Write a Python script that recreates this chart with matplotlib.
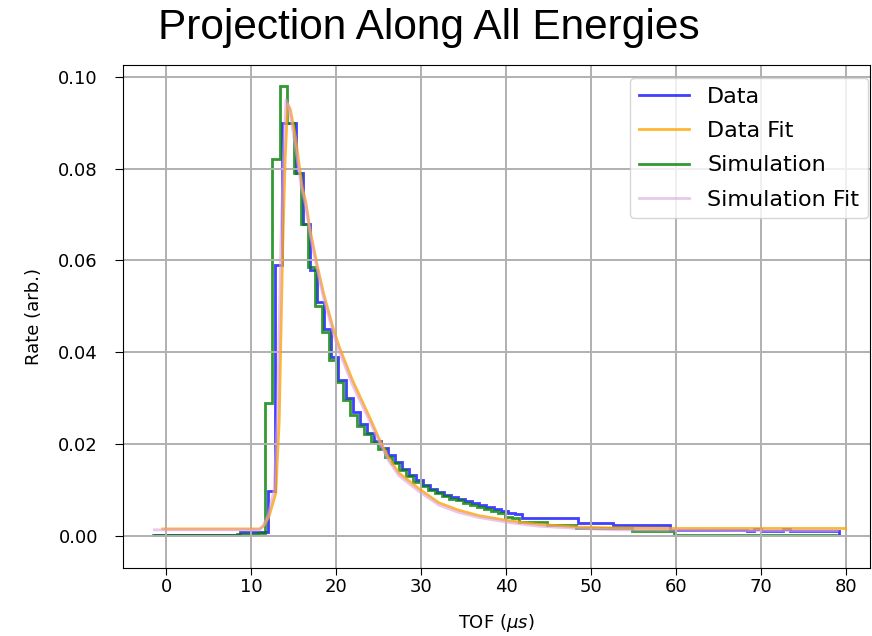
import numpy as np
import matplotlib
matplotlib.use('Agg')
import matplotlib.pyplot as plt

# histogram binning (uniform TOF bins, microseconds)
n_bins = 97
bin_width = 0.83
sim_first_edge = -1.6
data_first_edge = -1.3

# simulation histogram (green), one value per bin
sim_rate = [
    0.0002, 0.0002, 0.0002, 0.0002, 0.0002, 0.0002, 0.0002, 0.0002, 0.0002, 0.0002,
    0.0002, 0.0002, 0.0005, 0.0005, 0.0005, 0.0006, 0.0290, 0.0820, 0.0980, 0.0900,
    0.0790, 0.0680, 0.0585, 0.0500, 0.0445, 0.0383, 0.0336, 0.0295, 0.0264, 0.0240,
    0.0222, 0.0205, 0.0190, 0.0172, 0.0158, 0.0143, 0.0130, 0.0118, 0.0108, 0.0100,
    0.0093, 0.0087, 0.0081, 0.0077, 0.0072, 0.0067, 0.0063, 0.0059, 0.0055, 0.0050,
    0.0042, 0.0039, 0.0031, 0.0031, 0.0031, 0.0031, 0.0024, 0.0024, 0.0024, 0.0024,
    0.0018, 0.0018, 0.0018, 0.0018, 0.0018, 0.0018, 0.0018, 0.0018, 0.0011, 0.0011,
    0.0011, 0.0011, 0.0011, 0.0011, 0.0002, 0.0002, 0.0002, 0.0002, 0.0002, 0.0002,
    0.0002, 0.0002, 0.0002, 0.0002, 0.0002, 0.0002, 0.0002, 0.0002, 0.0002, 0.0002,
    0.0002, 0.0002, 0.0002, 0.0002, 0.0002, 0.0002, 0.0002,
]

# measured histogram (blue)
data_rate = [
    0.0002, 0.0002, 0.0002, 0.0002, 0.0002, 0.0002, 0.0002, 0.0002, 0.0002, 0.0002,
    0.0002, 0.0002, 0.0008, 0.0008, 0.0008, 0.0008, 0.0097, 0.0590, 0.0900, 0.0900,
    0.0790, 0.0680, 0.0580, 0.0510, 0.0450, 0.0390, 0.0340, 0.0300, 0.0270, 0.0243,
    0.0224, 0.0207, 0.0192, 0.0175, 0.0160, 0.0146, 0.0133, 0.0121, 0.0111, 0.0103,
    0.0096, 0.0090, 0.0085, 0.0080, 0.0076, 0.0071, 0.0067, 0.0063, 0.0059, 0.0055,
    0.0050, 0.0047, 0.0039, 0.0039, 0.0039, 0.0039, 0.0039, 0.0039, 0.0039, 0.0039,
    0.0029, 0.0029, 0.0029, 0.0029, 0.0028, 0.0023, 0.0023, 0.0023, 0.0023, 0.0023,
    0.0023, 0.0023, 0.0023, 0.0013, 0.0013, 0.0013, 0.0013, 0.0013, 0.0013, 0.0013,
    0.0013, 0.0013, 0.0013, 0.0013, 0.0010, 0.0015, 0.0010, 0.0010, 0.0010, 0.0015,
    0.0010, 0.0010, 0.0010, 0.0010, 0.0010, 0.0010, 0.0010,
]

# fitted curves
data_fit_tof = [-0.4, 11.0, 11.5, 12.1, 12.9, 13.3, 13.7, 14.0, 14.3, 14.6, 15.2, 16.0,
                16.4, 17.0, 17.8, 18.5, 19.7, 20.4, 21.9, 23.9, 25.1, 26.2, 27.4, 29.8,
                32.1, 34.4, 36.8, 40.3, 43.8, 48.5, 53.2, 60.0, 70.0, 80.0]
data_fit_rate = [0.0015, 0.0015, 0.0022, 0.0042, 0.0093, 0.025, 0.062, 0.082, 0.094,
                 0.093, 0.087, 0.076, 0.073, 0.066, 0.0587, 0.053, 0.0449, 0.041, 0.034,
                 0.026, 0.021, 0.0169, 0.0137, 0.0102, 0.0072, 0.0056, 0.0044, 0.0033,
                 0.0025, 0.0019, 0.0017, 0.0016, 0.0016, 0.0016]

sim_fit_tof = [-1.4, 11.0, 11.4, 12.0, 12.7, 13.1, 13.5, 13.8, 14.1, 14.5, 15.1, 15.9,
               16.4, 17.0, 17.8, 18.5, 19.7, 20.4, 21.9, 23.9, 25.1, 26.2, 27.4, 29.8,
               32.1, 34.4, 36.8, 40.3, 43.8, 48.5, 53.2, 60.0, 70.0, 79.0]
sim_fit_rate = [0.0013, 0.0013, 0.0022, 0.0045, 0.0100, 0.027, 0.064, 0.083, 0.095,
                0.093, 0.086, 0.076, 0.072, 0.065, 0.0578, 0.052, 0.0440, 0.040, 0.033,
                0.0252, 0.0203, 0.0163, 0.0131, 0.0096, 0.0067, 0.0051, 0.0040, 0.0029,
                0.0021, 0.0016, 0.0013, 0.0012, 0.0011, 0.0011]

sim_edges = sim_first_edge + bin_width * np.arange(n_bins + 1)
data_edges = data_first_edge + bin_width * np.arange(n_bins + 1)

fig = plt.figure(figsize=(8.72, 6.36), dpi=100)
ax = fig.add_axes([0.141, 0.107, 0.857, 0.791])

ax.stairs(data_rate, data_edges, color='blue', alpha=0.75, linewidth=2, label='Data')
ax.plot(data_fit_tof, data_fit_rate, color='orange', alpha=0.8, linewidth=2, label='Data Fit')
ax.stairs(sim_rate, sim_edges, color='green', alpha=0.8, linewidth=2, label='Simulation')
ax.plot(sim_fit_tof, sim_fit_rate, color='plum', alpha=0.6, linewidth=2, label='Simulation Fit')

ax.set_xlim(-5.1, 82.9)
ax.set_ylim(-0.007, 0.1026)
ax.set_xticks(np.arange(0, 81, 10))
ax.set_yticks(np.arange(0, 0.101, 0.02))
ax.yaxis.set_major_formatter(matplotlib.ticker.FormatStrFormatter('%.2f'))
ax.tick_params(axis='x', labelsize=13, length=5, pad=2)
ax.tick_params(axis='y', labelsize=13, length=6, pad=12)
ax.grid(True, color='#b0b0b0', linewidth=1.4)

ax.set_xlabel(r'TOF ($\mu s$)', fontsize=13, labelpad=12)
ax.set_ylabel('Rate (arb.)', fontsize=13, labelpad=11)
ax.legend(loc='upper right', bbox_to_anchor=(0.997, 0.974), borderaxespad=0,
          fontsize=16, handlelength=2.25, labelspacing=0.64)

fig.text(0.492, 0.956, 'Projection Along All Energies', ha='center', va='center',
         fontsize=30.5, family='Liberation Sans')

plt.savefig('out.png', dpi=100)
